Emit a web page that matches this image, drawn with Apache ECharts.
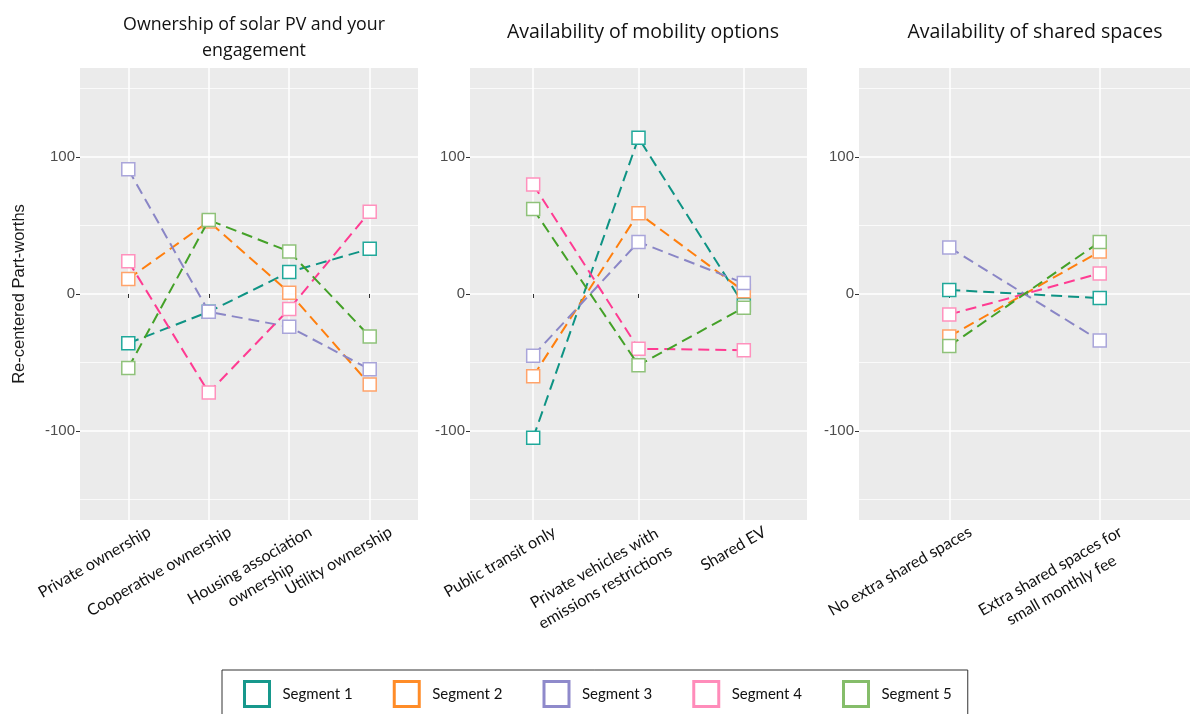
<!DOCTYPE html>
<html>
<head>
<meta charset="utf-8">
<script src="https://cdn.jsdelivr.net/npm/echarts@6/dist/echarts.min.js"></script>
<style>
  html, body { margin: 0; padding: 0; background: #ffffff; }
  #chart { width: 1192px; height: 714px; }
</style>
</head>
<body>
<div id="chart"></div>
<script>
// ---- data ----
const segmentNames = ['Segment 1', 'Segment 2', 'Segment 3', 'Segment 4', 'Segment 5'];

const panelTitles = ['Ownership of solar PV and your\nengagement', 'Availability of mobility options', 'Availability of shared spaces'];

const solarCategories = ['Private ownership', 'Cooperative ownership', 'Housing association\nownership', 'Utility ownership'];
const mobilityCategories = ['Public transit only', 'Private vehicles with\nemissions restrictions', 'Shared EV'];
const sharedCategories = ['No extra shared spaces', 'Extra shared spaces for\nsmall monthly fee'];

// values per segment (Segment 1..5)
const solarValues = [
  [-36, -13, 16, 33],
  [11, 53, 1, -66],
  [91, -13, -24, -55],
  [24, -72, -11, 60],
  [-54, 54, 31, -31]
];
const mobilityValues = [
  [-105, 114, -8],
  [-60, 59, 2],
  [-45, 38, 8],
  [80, -40, -41],
  [62, -52, -10]
];
const sharedValues = [
  [3, -3],
  [-31, 31],
  [34, -34],
  [-15, 15],
  [-38, 38]
];

const yMajorTicks = [-100, 0, 100];
const yMinorTicks = [-150, -50, 50, 150];

// ---- styles ----
const lineColors = ['#0e9384', '#ff7f0e', '#8a86c6', '#ff3b92', '#44a128'];
const markerColors = ['#1fa89a', '#ffa36a', '#a9a5da', '#ff91bd', '#8fc27a'];
const legendColors = ['#17988c', '#ff8c28', '#8f8acb', '#ff8cba', '#85bd6a'];

const panels = [
  { cats: solarCategories, vals: solarValues, left: 80, width: 338, titleX: 249, titleTop: 7, titleSize: 17.8 },
  { cats: mobilityCategories, vals: mobilityValues, left: 470, width: 337, titleX: 638, titleTop: 14, titleSize: 19.5 },
  { cats: sharedCategories, vals: sharedValues, left: 859, width: 331, titleX: 1030, titleTop: 14, titleSize: 19.5 }
];

const Y_MIN = -165, Y_MAX = 165;

const grids = [], xAxes = [], yAxes = [], series = [], titles = [];

panels.forEach((p, pi) => {
  grids.push({
    left: p.left, width: p.width, top: 68, height: 452,
    show: true, backgroundColor: '#ebebeb', borderWidth: 0
  });
  titles.push({
    text: panelTitles[pi], left: p.titleX, top: p.titleTop, textAlign: 'center',
    textStyle: { fontFamily: 'Open Sans', fontSize: p.titleSize, fontWeight: 'normal', color: '#111', lineHeight: 26 }
  });
  const n = p.cats.length;
  const idx = p.cats.map((c, i) => i + 1);
  xAxes.push({
    type: 'value', gridIndex: pi, min: 0.4, max: n + 0.6,
    axisLine: { show: false },
    axisTick: { show: true, customValues: idx, length: 4, lineStyle: { color: '#333', width: 1 } },
    splitLine: { show: true, lineStyle: { color: '#ffffff', width: 1.5 } },
    axisLabel: {
      customValues: idx,
      rotate: 30, align: 'right', verticalAlign: 'top', margin: 10,
      padding: [0, -18, 0, 0],
      formatter: function (v) {
        const label = p.cats[Math.round(v) - 1] || '';
        return label.split('\n').map(s => '{c|' + s + '}').join('\n');
      },
      rich: { c: { align: 'center', fontFamily: 'Lato', fontSize: 16, color: '#111', lineHeight: 22 } }
    }
  });
  // major y axis (labels, ticks, major grid)
  yAxes.push({
    type: 'value', gridIndex: pi, min: Y_MIN, max: Y_MAX,
    axisLine: { show: false },
    axisTick: { show: true, customValues: yMajorTicks, length: 4, lineStyle: { color: '#333', width: 1 } },
    axisLabel: { customValues: yMajorTicks, color: '#4d4d4d', fontSize: 15, fontFamily: 'Liberation Sans', margin: 5 },
    splitLine: { show: true, lineStyle: { color: '#ffffff', width: 1.5 } },
    name: pi === 0 ? 'Re-centered Part-worths' : '',
    nameLocation: 'middle', nameGap: 52, nameRotate: 90,
    nameTextStyle: { fontFamily: 'Liberation Sans', fontSize: 16.5, color: '#1a1a1a' }
  });
  // minor y axis (minor grid only)
  yAxes.push({
    type: 'value', gridIndex: pi, min: Y_MIN, max: Y_MAX,
    axisLine: { show: false },
    axisTick: { show: false, customValues: yMinorTicks },
    axisLabel: { show: false, customValues: yMinorTicks },
    splitLine: { show: true, lineStyle: { color: '#ffffff', width: 0.8, opacity: 0.9 } }
  });
  p.vals.forEach((vals, si) => {
    series.push({
      type: 'line', name: segmentNames[si],
      xAxisIndex: pi, yAxisIndex: pi * 2,
      data: vals.map((v, i) => [i + 1, v]),
      symbol: 'rect', symbolSize: 13,
      itemStyle: { color: '#ffffff', borderColor: markerColors[si], borderWidth: 1.5 },
      lineStyle: { color: lineColors[si], width: 2, type: [11, 6] },
      z: 2 + si
    });
  });
});

const chart = echarts.init(document.getElementById('chart'), null, { renderer: 'canvas' });
chart.setOption({
  animation: false,
  backgroundColor: '#ffffff',
  title: titles,
  grid: grids,
  xAxis: xAxes,
  yAxis: yAxes,
  legend: {
    left: 222, top: 670, orient: 'horizontal',
    padding: [10, 16, 20, 21], itemGap: 40,
    itemWidth: 25, itemHeight: 25, icon: 'rect',
    borderColor: '#333', borderWidth: 1, backgroundColor: '#ffffff',
    textStyle: { fontFamily: 'Lato', fontSize: 15, color: '#111', padding: [0, 0, 0, 8] },
    data: segmentNames.map((nm, i) => ({
      name: nm,
      itemStyle: { color: '#ffffff', borderColor: legendColors[i], borderWidth: 3 }
    }))
  },
  series: series
});
</script>
</body>
</html>
